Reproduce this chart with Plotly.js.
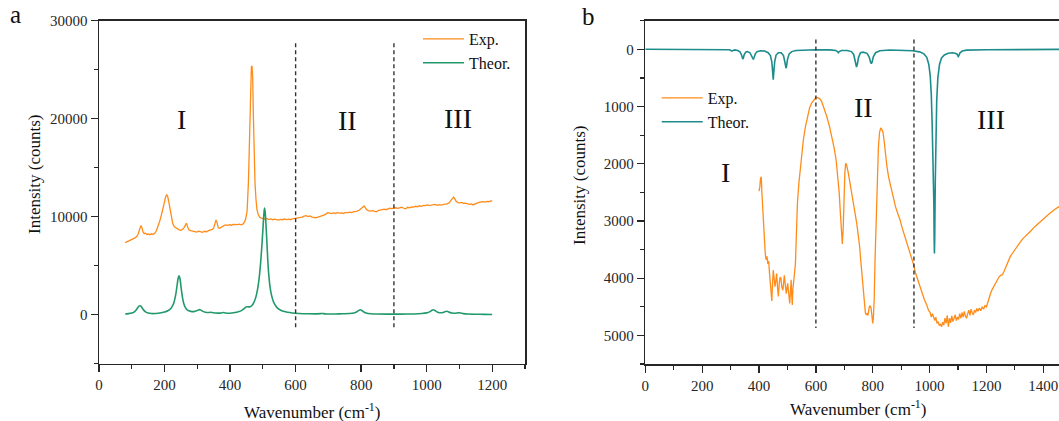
<!DOCTYPE html>
<html>
<head>
<meta charset="utf-8">
<script src="https://cdn.plot.ly/plotly-3.0.1.min.js"></script>
<style>
html,body{margin:0;padding:0;background:#fff;overflow:hidden;width:1059px;height:421px;}
#chart{width:1080px;height:421px;}
</style>
</head>
<body>
<div id="chart"></div>
<script>
// ---------- Panel a : Raman ----------
const ramanExpX = [80,85,90,95,100,105,110,115,120,124,128,131,134,138,142,146,150,155,160,165,170,175,180,185,190,195,200,204,207,210,213,217,221,225,230,235,240,245,250,255,260,264,267,270,274,280,286,292,298,304,310,316,322,328,334,340,346,350,354,357,360,364,368,374,380,386,392,398,404,410,416,422,428,434,440,444,448,452,456,459,462,465,467,469,471,473,476,479,482,486,490,495,500,506,512,518,524,530,536,542,548,554,560,566,572,578,584,590,596,602,608,614,620,626,632,638,644,650,656,662,668,674,680,686,692,698,704,710,716,722,728,734,740,746,752,758,764,770,776,782,788,794,800,805,809,813,817,822,828,834,840,846,852,858,864,870,876,882,888,894,900,906,912,918,924,930,936,942,948,954,960,966,972,978,984,990,996,1002,1008,1014,1020,1026,1032,1038,1044,1050,1056,1062,1068,1073,1078,1082,1086,1090,1095,1100,1106,1112,1118,1124,1130,1136,1142,1148,1154,1160,1166,1172,1178,1184,1190,1196,1200];
const ramanExpY = [7350,7420,7500,7560,7620,7700,7830,7960,8250,8700,9080,8900,8450,8250,8300,8180,8220,8150,8240,8180,8300,8550,8950,9500,10100,10900,11600,12100,12210,12000,11500,10700,9900,9300,8950,8850,8700,8650,8600,8700,8900,9250,9330,9000,8650,8560,8500,8470,8420,8520,8460,8400,8500,8450,8560,8600,8700,8850,9300,9660,9400,8850,8800,8950,9050,9150,9100,9180,9120,9200,9150,9170,9220,9160,9250,9450,9800,10600,13500,17500,22000,25300,25380,24200,20500,16800,13500,11800,10700,10200,9950,9850,9780,9750,9800,9700,9760,9680,9740,9700,9650,9720,9680,9750,9700,9740,9680,9760,9800,9850,9820,9900,9950,10050,10100,10000,10070,9950,9900,9880,9950,10000,10100,10150,10250,10400,10350,10300,10380,10320,10400,10350,10380,10300,10420,10380,10450,10400,10480,10500,10550,10650,10800,11000,11090,10900,10700,10610,10550,10600,10500,10480,10600,10650,10700,10750,10700,10800,10850,10820,10860,10900,10850,10900,10950,10850,10800,10950,10900,10980,10960,11050,11000,11100,11050,11150,11120,11200,11150,11180,11190,11250,11150,11220,11180,11250,11280,11300,11400,11600,11850,11980,11800,11550,11430,11400,11450,11350,11380,11300,11250,11300,11190,11300,11400,11450,11500,11530,11480,11560,11520,11600,11570];

const ramanTheorX = [80,90,100,108,114,118,122,125,128,132,137,143,150,160,170,180,190,200,210,220,228,234,238,241,244,247,250,254,258,263,270,280,290,298,303,307,311,317,325,333,340,346,355,365,374,380,386,395,405,415,425,435,443,448,452,456,461,466,472,478,484,489,493,497,500,503,505,507,509,512,515,518,522,527,533,540,550,560,575,590,610,640,665,676,680,684,695,720,745,765,778,787,793,797,801,807,815,830,850,880,920,960,985,1000,1010,1016,1020,1024,1030,1036,1042,1050,1056,1060,1064,1070,1078,1086,1094,1099,1104,1112,1125,1150,1175,1200];
const ramanTheorY = [60,90,160,280,480,700,860,900,850,650,420,250,150,100,100,130,180,250,380,650,1150,2000,2900,3600,3950,3700,2900,1900,1200,750,450,320,300,380,450,500,450,320,230,200,230,200,150,140,160,200,150,130,150,200,280,400,600,750,800,780,800,900,1200,1700,2600,3800,5200,7000,8600,10200,10860,10500,9500,7600,5600,4100,2800,1900,1250,850,520,350,230,160,110,80,70,90,110,90,60,60,80,100,160,280,420,490,440,280,160,80,50,40,40,60,100,170,300,440,490,440,300,200,180,210,280,330,310,220,150,130,160,180,150,90,50,30,20,10];

// ---------- Panel b : IR ----------
const irExpX = [400,403,405,408,410,413,416,419,422,425,428,431,434,437,440,443,445,448,450,453,456,459,462,465,468,471,474,477,480,484,487,489,492,496,499,501,504,508,511,513,515,517,519,522,525,528,531,535,540,545,550,556,563,570,578,586,594,600,605,610,615,620,628,638,648,656,664,671,677,682,686,690,693,696,699,702,705,708,714,720,726,732,738,744,749,754,758,762,767,771,774,777,780,783,786,788,791,794,797,800,802,805,808,812,816,820,824,828,832,836,840,845,850,856,864,872,880,888,896,904,912,920,928,936,943,950,958,966,974,982,990,996,1002,1006,1010,1014,1018,1022,1026,1030,1034,1038,1042,1046,1050,1054,1058,1062,1066,1070,1074,1078,1082,1086,1090,1094,1098,1102,1106,1110,1114,1118,1122,1126,1130,1134,1138,1142,1146,1150,1154,1158,1162,1166,1170,1175,1180,1185,1190,1195,1200,1205,1210,1215,1220,1226,1232,1238,1244,1250,1256,1262,1268,1276,1284,1292,1300,1310,1320,1330,1342,1355,1370,1385,1400,1420,1440,1460,1480,1500];
const irExpY = [2480,2400,2260,2230,2500,2800,3050,3400,3570,3680,3620,3750,3700,3920,4100,4300,4400,4050,3860,4000,4150,4050,3920,4150,4320,4100,3980,4000,4150,4210,4000,3950,4100,4270,4150,4090,4250,4440,4200,4030,4300,4470,4200,3980,3900,3750,3200,2700,2350,2080,1850,1580,1360,1170,1020,930,870,845,840,850,870,910,1020,1170,1350,1520,1720,1930,2200,2500,2850,3200,3400,3150,2500,2150,1990,2020,2160,2350,2570,2720,2870,3050,3220,3450,3700,3950,4150,4400,4600,4640,4620,4650,4550,4500,4480,4520,4650,4790,4700,4400,3700,2950,2200,1700,1450,1375,1400,1450,1600,1850,2050,2240,2420,2620,2750,2870,2980,3130,3250,3370,3500,3620,3750,3900,4020,4160,4270,4380,4470,4560,4600,4680,4620,4700,4740,4680,4790,4760,4830,4800,4850,4770,4820,4700,4790,4650,4850,4700,4780,4660,4760,4700,4640,4740,4680,4720,4620,4700,4600,4680,4580,4660,4700,4620,4560,4650,4540,4610,4640,4560,4600,4530,4580,4520,4570,4500,4540,4480,4500,4420,4320,4260,4200,4140,4080,4030,3980,3950,3940,3880,3800,3700,3620,3560,3500,3420,3360,3300,3250,3180,3100,3030,2960,2880,2800,2730,2660,2600];

const irTheorX = [0,100,200,280,295,300,304,308,315,325,333,338,341,343,345,348,353,360,368,374,377,380,383,387,393,405,420,432,440,445,448,450,452,455,460,468,478,486,490,493,495,497,500,506,515,530,560,600,650,670,676,679,682,690,710,725,733,738,741,743,746,750,757,766,780,788,792,795,798,802,810,825,860,900,940,965,980,990,997,1002,1006,1009,1011,1013,1014,1015,1016,1017,1018,1020,1022,1025,1029,1035,1042,1052,1065,1080,1090,1096,1099,1101,1103,1107,1115,1130,1200,1300,1500];
const irTheorY = [0,0,0,2,8,15,30,20,10,20,45,90,140,170,150,90,50,40,60,110,160,175,140,80,40,25,30,60,110,220,400,530,400,220,100,60,60,110,200,300,330,290,180,80,40,20,10,8,10,20,40,60,40,20,20,40,90,180,280,310,260,140,60,50,70,140,220,250,220,130,60,25,12,15,25,45,80,140,260,450,800,1300,1700,1990,2050,2700,3300,3570,3300,2300,1500,900,500,260,150,100,70,60,70,80,110,125,110,60,30,15,8,3,0];

// region dividers and labels
const dividersA = [600, 900];
const dividersB = [600, 945];
const regionNames = ["I", "II", "III"];
const regionPosA = [[252, 19900], [757, 19800], [1095, 20050]];
const regionPosB = [[283, 2160], [769, 1010], [1216, 1220]];

const seriesNames = ["Exp.", "Theor."];
const xTitle = "Wavenumber (cm<sup>-1</sup>)";
const yTitle = "Intensity (counts)";

const FONT = "'Liberation Serif', 'Times New Roman', serif";
const ORANGE = "#FF8C1A", GREEN = "#22996C", TEAL = "#1F8C8C", INK = "#262626";

const traces = [
  {x: ramanExpX, y: ramanExpY, name: seriesNames[0], type: "scatter", mode: "lines",
   line: {color: ORANGE, width: 1.3}, xaxis: "x", yaxis: "y", legend: "legend"},
  {x: ramanTheorX, y: ramanTheorY, name: seriesNames[1], type: "scatter", mode: "lines",
   line: {color: GREEN, width: 1.6, shape: "spline", smoothing: 0.6}, xaxis: "x", yaxis: "y", legend: "legend"},
  {x: irExpX, y: irExpY, name: seriesNames[0], type: "scatter", mode: "lines",
   line: {color: ORANGE, width: 1.3}, xaxis: "x2", yaxis: "y2", legend: "legend2"},
  {x: irTheorX, y: irTheorY, name: seriesNames[1], type: "scatter", mode: "lines",
   line: {color: TEAL, width: 1.6}, xaxis: "x2", yaxis: "y2", legend: "legend2"}
];

function axisBase(extra) {
  return Object.assign({
    showgrid: false, zeroline: false, showline: true, mirror: true,
    linecolor: INK, linewidth: 1.5,
    ticks: "outside", ticklen: 7, tickwidth: 1.3, tickcolor: INK,
    tickfont: {family: FONT, size: 15, color: INK},
    tickformat: "d", automargin: false, fixedrange: true
  }, extra);
}

const W = 1080, H = 421;
const shapes = [];
dividersA.forEach(v => shapes.push({type: "line", xref: "x", yref: "y", x0: v, x1: v, y0: -1300, y1: 28000,
  line: {color: "#333", width: 1.4, dash: "4px,3px"}}));
dividersB.forEach(v => shapes.push({type: "line", xref: "x2", yref: "y2", x0: v, x1: v, y0: -170, y1: 4870,
  line: {color: "#333", width: 1.4, dash: "4px,3px"}}));

const annotations = [];
regionNames.forEach((t, i) => {
  annotations.push({text: t, xref: "x", yref: "y", x: regionPosA[i][0], y: regionPosA[i][1], showarrow: false,
    font: {family: FONT, size: 28, color: "#111"}});
  annotations.push({text: t, xref: "x2", yref: "y2", x: regionPosB[i][0], y: regionPosB[i][1], showarrow: false,
    font: {family: FONT, size: 28, color: "#111"}});
});
function paperText(text, px, py, size, angle, anchor) {
  annotations.push({text: text, xref: "paper", yref: "paper", x: px / W, y: 1 - py / H,
    xanchor: anchor || "center", yanchor: "middle", showarrow: false, textangle: angle || 0,
    font: {family: FONT, size: size, color: "#111"}});
}
paperText("a", 15, 14, 25);
paperText("b", 588, 16, 25);
paperText(yTitle, 34, 175, 17, -90);
paperText(yTitle, 580, 186, 17, -90);
paperText(xTitle, 312, 411, 17);
paperText(xTitle, 858, 408, 17);

const layout = {
  width: W, height: H,
  margin: {l: 0, r: 0, t: 0, b: 0},
  paper_bgcolor: "#fff", plot_bgcolor: "#fff",
  font: {family: FONT, color: INK},
  xaxis: axisBase({domain: [99 / W, 525 / W], range: [0, 1300], dtick: 200, tick0: 0, anchor: "y",
    minor: {ticks: "outside", ticklen: 4, dtick: 100, tickcolor: INK, tickwidth: 1.2}}),
  yaxis: axisBase({domain: [1 - 363.5 / H, 1 - 20.7 / H], range: [-5000, 30000], dtick: 10000, tick0: 0, anchor: "x",
    minor: {ticks: "outside", ticklen: 4, dtick: 5000, tickcolor: INK, tickwidth: 1.2}}),
  xaxis2: axisBase({domain: [645.3 / W, (645.3 + 1500 * 0.2843) / W], range: [0, 1500], dtick: 200, tick0: 0, anchor: "y2",
    minor: {ticks: "outside", ticklen: 4, dtick: 100, tickcolor: INK, tickwidth: 1.2}}),
  yaxis2: axisBase({domain: [1 - 364 / H, 1 - 20.7 / H], range: [5500, -500], dtick: 1000, tick0: 0, anchor: "x2",
    minor: {ticks: "outside", ticklen: 4, dtick: 500, tickcolor: INK, tickwidth: 1.2}}),
  showlegend: true,
  legend: {x: 418 / W, y: 1 - 22 / H, xanchor: "left", yanchor: "top", bgcolor: "rgba(0,0,0,0)",
    font: {family: FONT, size: 16, color: "#111"}, tracegroupgap: 0, itemwidth: 41},
  legend2: {x: 656.7 / W, y: 1 - 81 / H, xanchor: "left", yanchor: "top", bgcolor: "rgba(0,0,0,0)",
    font: {family: FONT, size: 16, color: "#111"}, tracegroupgap: 0, itemwidth: 41},
  shapes: shapes,
  annotations: annotations
};

Plotly.newPlot("chart", traces, layout, {displayModeBar: false, staticPlot: true});
</script>
</body>
</html>
